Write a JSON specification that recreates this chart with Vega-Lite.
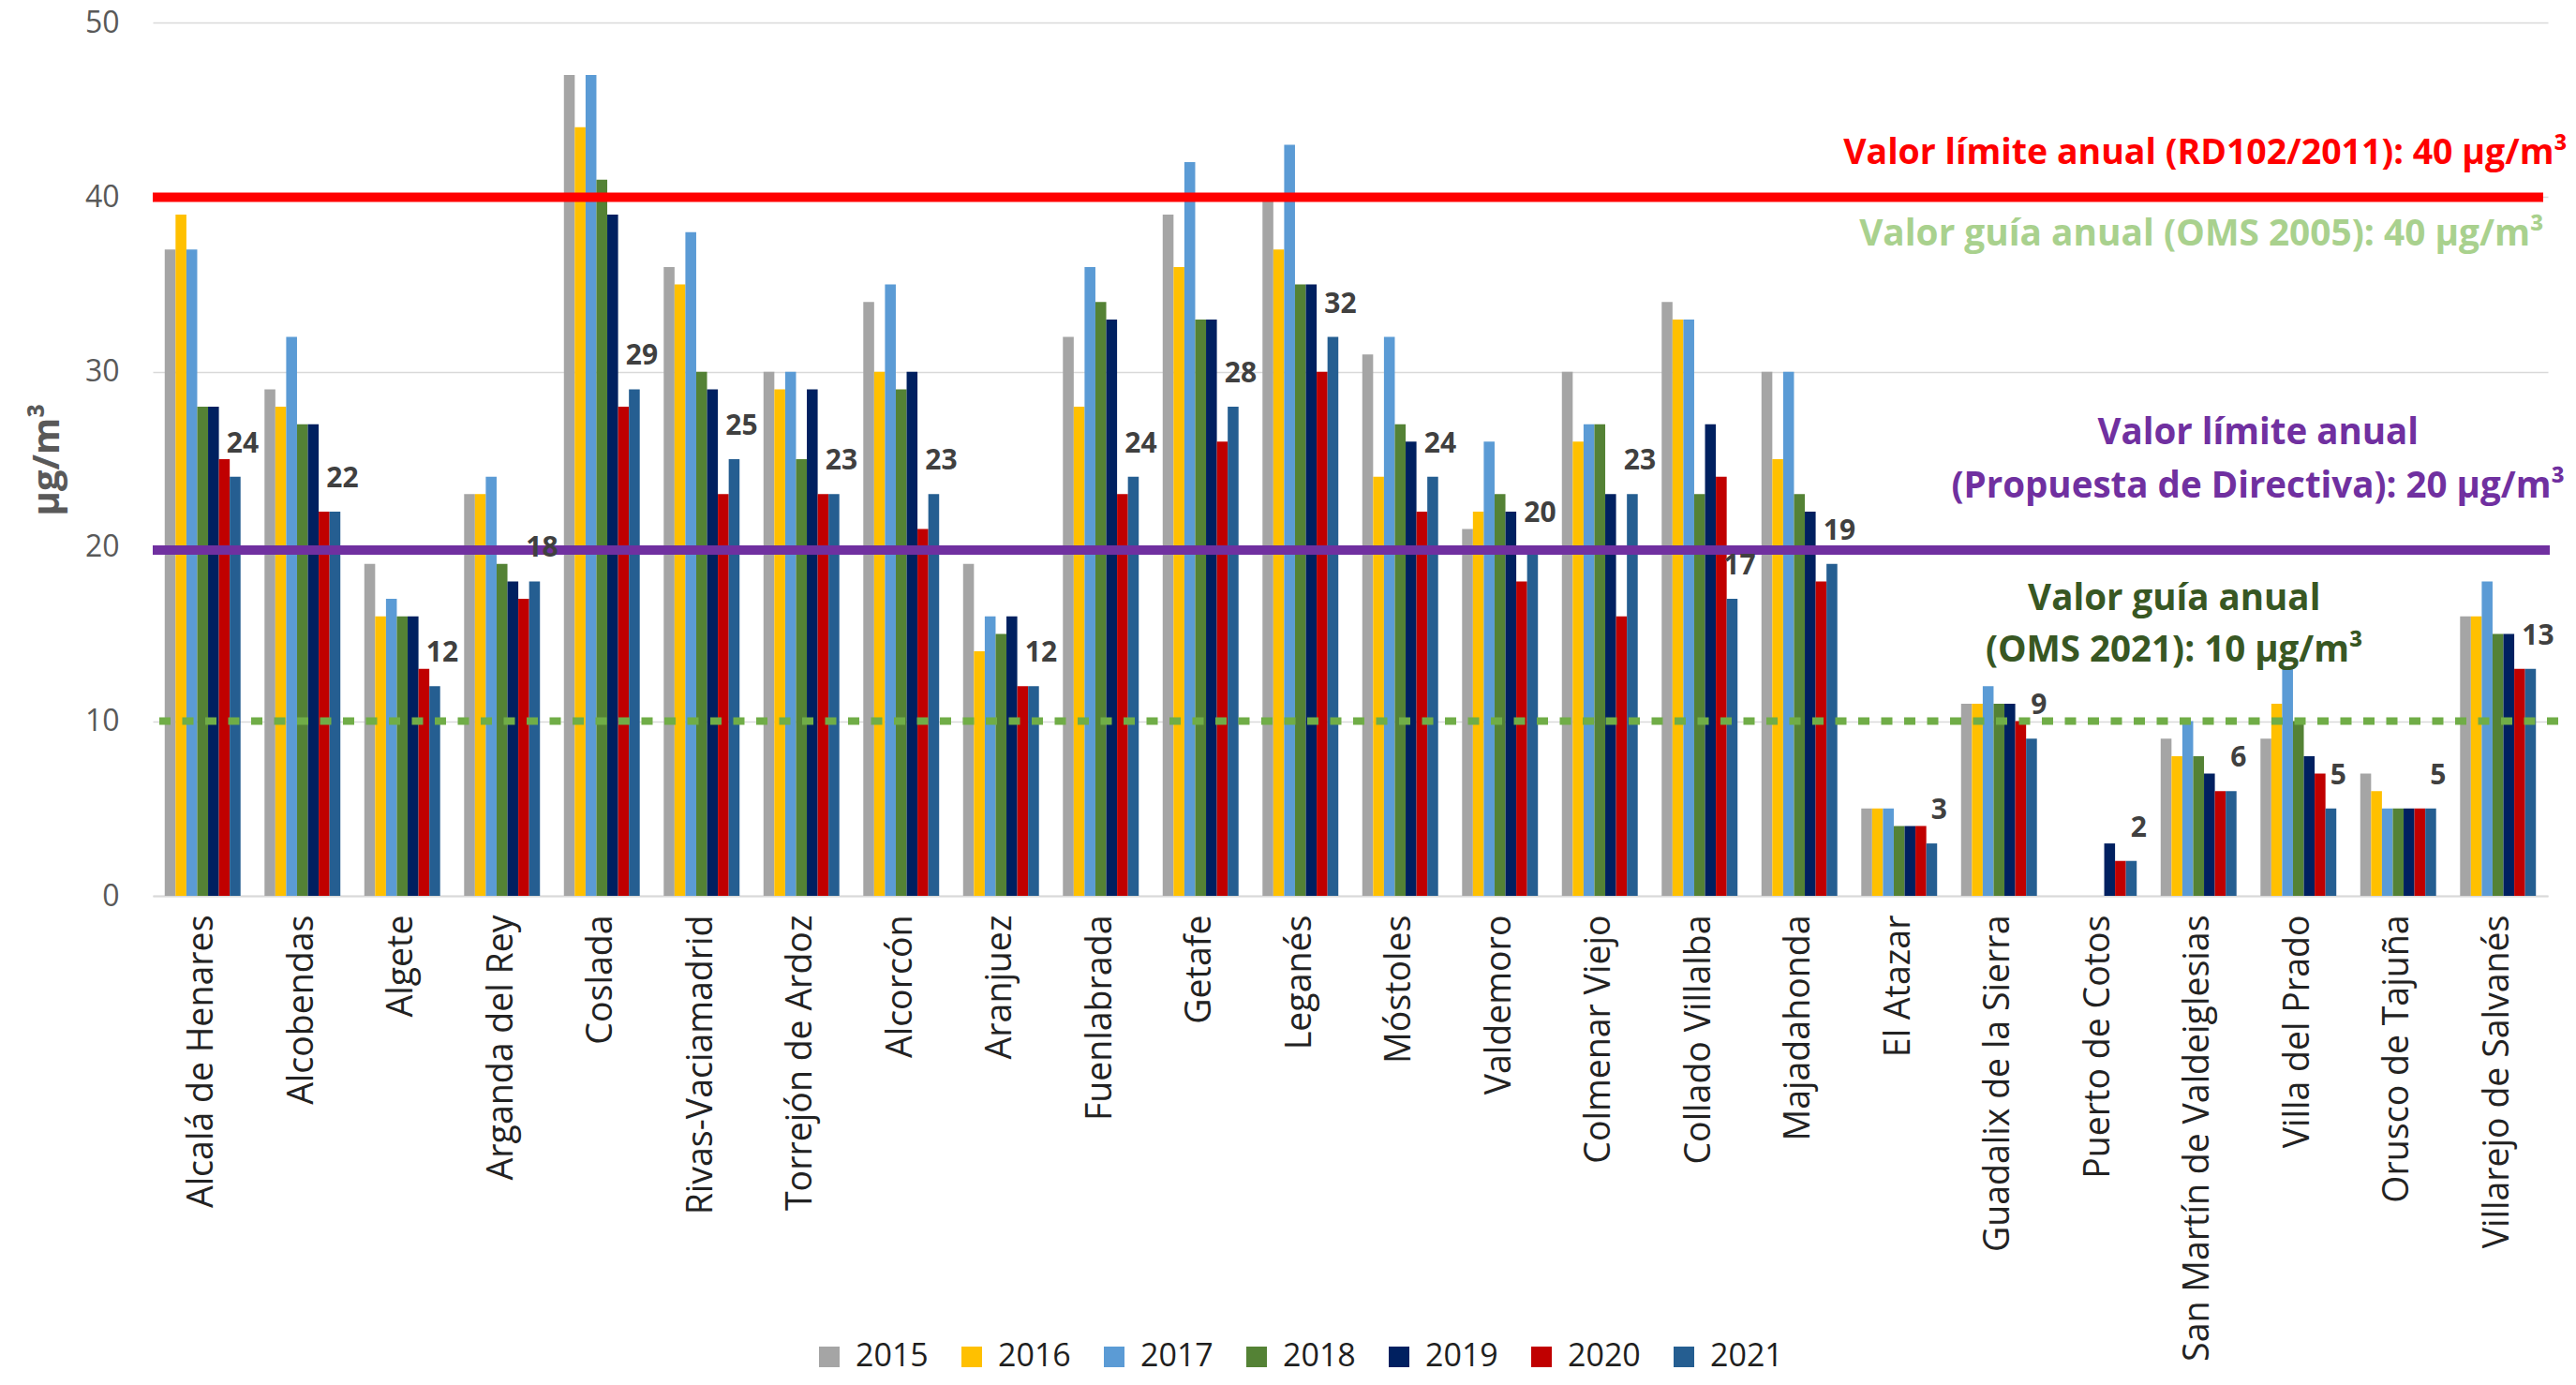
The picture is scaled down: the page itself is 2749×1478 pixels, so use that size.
{
  "$schema": "https://vega.github.io/schema/vega-lite/v6.json",
  "width": 2556,
  "height": 932,
  "autosize": {"type": "none"},
  "padding": {"left": 163, "top": 24, "right": 30, "bottom": 522},
  "background": "white",
  "config": {"view": {"stroke": null}, "font": "Open Sans"},
  "data": {"values": [
    {"station": "Alcalá de Henares", "year": "2015", "value": 37},
    {"station": "Alcalá de Henares", "year": "2016", "value": 39},
    {"station": "Alcalá de Henares", "year": "2017", "value": 37},
    {"station": "Alcalá de Henares", "year": "2018", "value": 28},
    {"station": "Alcalá de Henares", "year": "2019", "value": 28},
    {"station": "Alcalá de Henares", "year": "2020", "value": 25},
    {"station": "Alcalá de Henares", "year": "2021", "value": 24},
    {"station": "Alcobendas", "year": "2015", "value": 29},
    {"station": "Alcobendas", "year": "2016", "value": 28},
    {"station": "Alcobendas", "year": "2017", "value": 32},
    {"station": "Alcobendas", "year": "2018", "value": 27},
    {"station": "Alcobendas", "year": "2019", "value": 27},
    {"station": "Alcobendas", "year": "2020", "value": 22},
    {"station": "Alcobendas", "year": "2021", "value": 22},
    {"station": "Algete", "year": "2015", "value": 19},
    {"station": "Algete", "year": "2016", "value": 16},
    {"station": "Algete", "year": "2017", "value": 17},
    {"station": "Algete", "year": "2018", "value": 16},
    {"station": "Algete", "year": "2019", "value": 16},
    {"station": "Algete", "year": "2020", "value": 13},
    {"station": "Algete", "year": "2021", "value": 12},
    {"station": "Arganda del Rey", "year": "2015", "value": 23},
    {"station": "Arganda del Rey", "year": "2016", "value": 23},
    {"station": "Arganda del Rey", "year": "2017", "value": 24},
    {"station": "Arganda del Rey", "year": "2018", "value": 19},
    {"station": "Arganda del Rey", "year": "2019", "value": 18},
    {"station": "Arganda del Rey", "year": "2020", "value": 17},
    {"station": "Arganda del Rey", "year": "2021", "value": 18},
    {"station": "Coslada", "year": "2015", "value": 47},
    {"station": "Coslada", "year": "2016", "value": 44},
    {"station": "Coslada", "year": "2017", "value": 47},
    {"station": "Coslada", "year": "2018", "value": 41},
    {"station": "Coslada", "year": "2019", "value": 39},
    {"station": "Coslada", "year": "2020", "value": 28},
    {"station": "Coslada", "year": "2021", "value": 29},
    {"station": "Rivas-Vaciamadrid", "year": "2015", "value": 36},
    {"station": "Rivas-Vaciamadrid", "year": "2016", "value": 35},
    {"station": "Rivas-Vaciamadrid", "year": "2017", "value": 38},
    {"station": "Rivas-Vaciamadrid", "year": "2018", "value": 30},
    {"station": "Rivas-Vaciamadrid", "year": "2019", "value": 29},
    {"station": "Rivas-Vaciamadrid", "year": "2020", "value": 23},
    {"station": "Rivas-Vaciamadrid", "year": "2021", "value": 25},
    {"station": "Torrejón de Ardoz", "year": "2015", "value": 30},
    {"station": "Torrejón de Ardoz", "year": "2016", "value": 29},
    {"station": "Torrejón de Ardoz", "year": "2017", "value": 30},
    {"station": "Torrejón de Ardoz", "year": "2018", "value": 25},
    {"station": "Torrejón de Ardoz", "year": "2019", "value": 29},
    {"station": "Torrejón de Ardoz", "year": "2020", "value": 23},
    {"station": "Torrejón de Ardoz", "year": "2021", "value": 23},
    {"station": "Alcorcón", "year": "2015", "value": 34},
    {"station": "Alcorcón", "year": "2016", "value": 30},
    {"station": "Alcorcón", "year": "2017", "value": 35},
    {"station": "Alcorcón", "year": "2018", "value": 29},
    {"station": "Alcorcón", "year": "2019", "value": 30},
    {"station": "Alcorcón", "year": "2020", "value": 21},
    {"station": "Alcorcón", "year": "2021", "value": 23},
    {"station": "Aranjuez", "year": "2015", "value": 19},
    {"station": "Aranjuez", "year": "2016", "value": 14},
    {"station": "Aranjuez", "year": "2017", "value": 16},
    {"station": "Aranjuez", "year": "2018", "value": 15},
    {"station": "Aranjuez", "year": "2019", "value": 16},
    {"station": "Aranjuez", "year": "2020", "value": 12},
    {"station": "Aranjuez", "year": "2021", "value": 12},
    {"station": "Fuenlabrada", "year": "2015", "value": 32},
    {"station": "Fuenlabrada", "year": "2016", "value": 28},
    {"station": "Fuenlabrada", "year": "2017", "value": 36},
    {"station": "Fuenlabrada", "year": "2018", "value": 34},
    {"station": "Fuenlabrada", "year": "2019", "value": 33},
    {"station": "Fuenlabrada", "year": "2020", "value": 23},
    {"station": "Fuenlabrada", "year": "2021", "value": 24},
    {"station": "Getafe", "year": "2015", "value": 39},
    {"station": "Getafe", "year": "2016", "value": 36},
    {"station": "Getafe", "year": "2017", "value": 42},
    {"station": "Getafe", "year": "2018", "value": 33},
    {"station": "Getafe", "year": "2019", "value": 33},
    {"station": "Getafe", "year": "2020", "value": 26},
    {"station": "Getafe", "year": "2021", "value": 28},
    {"station": "Leganés", "year": "2015", "value": 40},
    {"station": "Leganés", "year": "2016", "value": 37},
    {"station": "Leganés", "year": "2017", "value": 43},
    {"station": "Leganés", "year": "2018", "value": 35},
    {"station": "Leganés", "year": "2019", "value": 35},
    {"station": "Leganés", "year": "2020", "value": 30},
    {"station": "Leganés", "year": "2021", "value": 32},
    {"station": "Móstoles", "year": "2015", "value": 31},
    {"station": "Móstoles", "year": "2016", "value": 24},
    {"station": "Móstoles", "year": "2017", "value": 32},
    {"station": "Móstoles", "year": "2018", "value": 27},
    {"station": "Móstoles", "year": "2019", "value": 26},
    {"station": "Móstoles", "year": "2020", "value": 22},
    {"station": "Móstoles", "year": "2021", "value": 24},
    {"station": "Valdemoro", "year": "2015", "value": 21},
    {"station": "Valdemoro", "year": "2016", "value": 22},
    {"station": "Valdemoro", "year": "2017", "value": 26},
    {"station": "Valdemoro", "year": "2018", "value": 23},
    {"station": "Valdemoro", "year": "2019", "value": 22},
    {"station": "Valdemoro", "year": "2020", "value": 18},
    {"station": "Valdemoro", "year": "2021", "value": 20},
    {"station": "Colmenar Viejo", "year": "2015", "value": 30},
    {"station": "Colmenar Viejo", "year": "2016", "value": 26},
    {"station": "Colmenar Viejo", "year": "2017", "value": 27},
    {"station": "Colmenar Viejo", "year": "2018", "value": 27},
    {"station": "Colmenar Viejo", "year": "2019", "value": 23},
    {"station": "Colmenar Viejo", "year": "2020", "value": 16},
    {"station": "Colmenar Viejo", "year": "2021", "value": 23},
    {"station": "Collado Villalba", "year": "2015", "value": 34},
    {"station": "Collado Villalba", "year": "2016", "value": 33},
    {"station": "Collado Villalba", "year": "2017", "value": 33},
    {"station": "Collado Villalba", "year": "2018", "value": 23},
    {"station": "Collado Villalba", "year": "2019", "value": 27},
    {"station": "Collado Villalba", "year": "2020", "value": 24},
    {"station": "Collado Villalba", "year": "2021", "value": 17},
    {"station": "Majadahonda", "year": "2015", "value": 30},
    {"station": "Majadahonda", "year": "2016", "value": 25},
    {"station": "Majadahonda", "year": "2017", "value": 30},
    {"station": "Majadahonda", "year": "2018", "value": 23},
    {"station": "Majadahonda", "year": "2019", "value": 22},
    {"station": "Majadahonda", "year": "2020", "value": 18},
    {"station": "Majadahonda", "year": "2021", "value": 19},
    {"station": "El Atazar", "year": "2015", "value": 5},
    {"station": "El Atazar", "year": "2016", "value": 5},
    {"station": "El Atazar", "year": "2017", "value": 5},
    {"station": "El Atazar", "year": "2018", "value": 4},
    {"station": "El Atazar", "year": "2019", "value": 4},
    {"station": "El Atazar", "year": "2020", "value": 4},
    {"station": "El Atazar", "year": "2021", "value": 3},
    {"station": "Guadalix de la Sierra", "year": "2015", "value": 11},
    {"station": "Guadalix de la Sierra", "year": "2016", "value": 11},
    {"station": "Guadalix de la Sierra", "year": "2017", "value": 12},
    {"station": "Guadalix de la Sierra", "year": "2018", "value": 11},
    {"station": "Guadalix de la Sierra", "year": "2019", "value": 11},
    {"station": "Guadalix de la Sierra", "year": "2020", "value": 10},
    {"station": "Guadalix de la Sierra", "year": "2021", "value": 9},
    {"station": "Puerto de Cotos", "year": "2019", "value": 3},
    {"station": "Puerto de Cotos", "year": "2020", "value": 2},
    {"station": "Puerto de Cotos", "year": "2021", "value": 2},
    {"station": "San Martín de Valdeiglesias", "year": "2015", "value": 9},
    {"station": "San Martín de Valdeiglesias", "year": "2016", "value": 8},
    {"station": "San Martín de Valdeiglesias", "year": "2017", "value": 10},
    {"station": "San Martín de Valdeiglesias", "year": "2018", "value": 8},
    {"station": "San Martín de Valdeiglesias", "year": "2019", "value": 7},
    {"station": "San Martín de Valdeiglesias", "year": "2020", "value": 6},
    {"station": "San Martín de Valdeiglesias", "year": "2021", "value": 6},
    {"station": "Villa del Prado", "year": "2015", "value": 9},
    {"station": "Villa del Prado", "year": "2016", "value": 11},
    {"station": "Villa del Prado", "year": "2017", "value": 13},
    {"station": "Villa del Prado", "year": "2018", "value": 10},
    {"station": "Villa del Prado", "year": "2019", "value": 8},
    {"station": "Villa del Prado", "year": "2020", "value": 7},
    {"station": "Villa del Prado", "year": "2021", "value": 5},
    {"station": "Orusco de Tajuña", "year": "2015", "value": 7},
    {"station": "Orusco de Tajuña", "year": "2016", "value": 6},
    {"station": "Orusco de Tajuña", "year": "2017", "value": 5},
    {"station": "Orusco de Tajuña", "year": "2018", "value": 5},
    {"station": "Orusco de Tajuña", "year": "2019", "value": 5},
    {"station": "Orusco de Tajuña", "year": "2020", "value": 5},
    {"station": "Orusco de Tajuña", "year": "2021", "value": 5},
    {"station": "Villarejo de Salvanés", "year": "2015", "value": 16},
    {"station": "Villarejo de Salvanés", "year": "2016", "value": 16},
    {"station": "Villarejo de Salvanés", "year": "2017", "value": 18},
    {"station": "Villarejo de Salvanés", "year": "2018", "value": 15},
    {"station": "Villarejo de Salvanés", "year": "2019", "value": 15},
    {"station": "Villarejo de Salvanés", "year": "2020", "value": 13},
    {"station": "Villarejo de Salvanés", "year": "2021", "value": 13}
  ]},
  "layer": [
    {
      "mark": {"type": "bar"},
      "encoding": {
        "x": {
          "field": "station", "type": "nominal", "sort": null,
          "scale": {"paddingInner": 0.24, "paddingOuter": 0.12},
          "axis": {
            "title": null, "labelAngle": -90, "labelFontSize": 37.5, "labelColor": "#222222",
            "labelPadding": 20, "labelLimit": 0, "ticks": false,
            "domain": true, "domainColor": "#d9d9d9", "domainWidth": 2, "grid": false
          }
        },
        "xOffset": {"field": "year", "type": "nominal", "sort": null},
        "y": {
          "field": "value", "type": "quantitative",
          "scale": {"domain": [0, 50], "nice": false},
          "axis": {
            "title": "µg/m³", "titleFontSize": 40, "titleFontWeight": "bold", "titleColor": "#595959",
            "titlePadding": 20, "values": [0, 10, 20, 30, 40, 50],
            "labelFontSize": 32, "labelColor": "#595959", "labelPadding": 36,
            "ticks": false, "domain": false, "grid": true, "gridColor": "#d9d9d9", "gridWidth": 1.5
          }
        },
        "color": {
          "field": "year", "type": "nominal",
          "scale": {
            "domain": ["2015", "2016", "2017", "2018", "2019", "2020", "2021"],
            "range": ["#a5a5a5", "#ffc000", "#5b9bd5", "#548235", "#002060", "#c00000", "#255e91"]
          },
          "legend": {
            "title": null, "orient": "none", "legendX": 705, "legendY": 1407, "direction": "horizontal",
            "symbolType": "square", "symbolSize": 484, "symbolStrokeWidth": 0, "symbolOpacity": 1,
            "labelFontSize": 34, "labelColor": "#1f1f1f", "labelOffset": 11, "columnPadding": 29, "padding": 0
          }
        }
      }
    },
    {
      "data": {"values": [{"v": 40}]},
      "mark": {"type": "rule", "color": "#ff0000", "strokeWidth": 10, "xOffset": -5, "x2Offset": 26},
      "encoding": {"y": {"field": "v", "type": "quantitative"}}
    },
    {
      "data": {"values": [{"v": 19.8}]},
      "mark": {"type": "rule", "color": "#7030a0", "strokeWidth": 10, "xOffset": 2, "x2Offset": 18},
      "encoding": {"y": {"field": "v", "type": "quantitative"}}
    },
    {
      "data": {"values": [{"v": 10}]},
      "mark": {"type": "rule", "color": "#70ad47", "strokeWidth": 8, "strokeDash": [12, 12.5], "xOffset": 11, "x2Offset": 16},
      "encoding": {"y": {"field": "v", "type": "quantitative"}}
    },
    {
      "transform": [{"filter": "datum.year == '2021'"}],
      "mark": {"type": "text", "fontWeight": "bold", "fontSize": 30, "color": "#404040", "baseline": "middle", "dx": 8, "dy": -35},
      "encoding": {
        "x": {"field": "station", "type": "nominal", "sort": null},
        "xOffset": {"field": "year", "type": "nominal", "sort": null},
        "y": {"field": "value", "type": "quantitative"},
        "text": {"field": "value", "type": "quantitative"}
      }
    },
    {
      "data": {"values": [{"v": 40, "label": "Valor límite anual (RD102/2011): 40 µg/m³"}]},
      "mark": {"type": "text", "fontWeight": "bold", "fontSize": 37.5, "color": "#ff0000", "align": "right", "baseline": "middle", "dx": 74, "dy": -46},
      "encoding": {
        "x": {"datum": "Villarejo de Salvanés", "type": "nominal"},
        "y": {"field": "v", "type": "quantitative"},
        "text": {"field": "label"}
      }
    },
    {
      "data": {"values": [{"v": 40, "label": "Valor guía anual (OMS 2005): 40 µg/m³"}]},
      "mark": {"type": "text", "fontWeight": "bold", "fontSize": 38.8, "color": "#a9d18e", "align": "right", "baseline": "middle", "dx": 49, "dy": 40},
      "encoding": {
        "x": {"datum": "Villarejo de Salvanés", "type": "nominal"},
        "y": {"field": "v", "type": "quantitative"},
        "text": {"field": "label"}
      }
    },
    {
      "data": {"values": [{"v": 19.8, "label": "Valor límite anual\n(Propuesta de Directiva): 20 µg/m³"}]},
      "mark": {"type": "text", "fontWeight": "bold", "fontSize": 38.5, "color": "#7030a0", "align": "center", "baseline": "middle", "lineBreak": "\n", "lineHeight": 57, "dx": -43, "dy": -125},
      "encoding": {
        "x": {"datum": "Villa del Prado", "type": "nominal"},
        "y": {"field": "v", "type": "quantitative"},
        "text": {"field": "label"}
      }
    },
    {
      "data": {"values": [{"v": 10, "label": "Valor guía anual\n(OMS 2021): 10 µg/m³"}]},
      "mark": {"type": "text", "fontWeight": "bold", "fontSize": 38.5, "color": "#385723", "align": "center", "baseline": "middle", "lineBreak": "\n", "lineHeight": 55, "dx": -26, "dy": -131},
      "encoding": {
        "x": {"datum": "San Martín de Valdeiglesias", "type": "nominal"},
        "y": {"field": "v", "type": "quantitative"},
        "text": {"field": "label"}
      }
    }
  ]
}
